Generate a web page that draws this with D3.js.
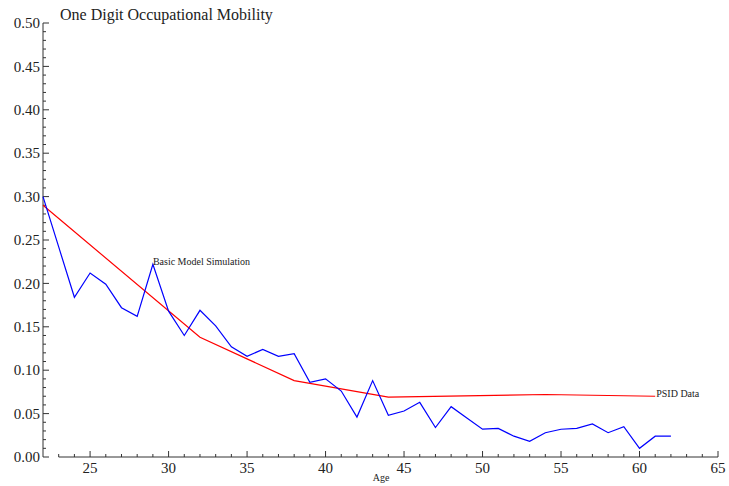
<!DOCTYPE html>
<html>
<head>
<meta charset="utf-8">
<script src="https://cdn.jsdelivr.net/npm/d3@7"></script>
<style>
  body { margin: 0; background: #fff; }
  svg { display: block; }
  text { font-family: "Liberation Serif", "Times New Roman", serif; fill: #222; }
</style>
</head>
<body>
<script>
const width = 729;
const height = 486;

// Basic Model Simulation (blue)
const simAges = [22, 23, 24, 25, 26, 27, 28, 29, 30, 31, 32, 33, 34, 35, 36, 37, 38, 39, 40, 41,
  42, 43, 44, 45, 46, 47, 48, 49, 50, 51, 52, 53, 54, 55, 56, 57, 58, 59, 60, 61, 62];
const simValues = [0.300, 0.242, 0.184, 0.212, 0.199, 0.172, 0.162, 0.222, 0.168, 0.140, 0.169,
  0.151, 0.127, 0.116, 0.124, 0.116, 0.119, 0.086, 0.090, 0.076, 0.046, 0.088, 0.048, 0.053,
  0.063, 0.034, 0.058, 0.045, 0.032, 0.033, 0.024, 0.018, 0.028, 0.032, 0.033, 0.038, 0.028,
  0.035, 0.010, 0.024, 0.024];

// PSID Data (red)
const psidAges = [22, 32, 38, 44, 54, 61];
const psidValues = [0.290, 0.138, 0.088, 0.069, 0.072, 0.070];

const yTickLabels = ["0.00", "0.05", "0.10", "0.15", "0.20", "0.25", "0.30", "0.35", "0.40", "0.45", "0.50"];
const xTickValues = [25, 30, 35, 40, 45, 50, 55, 60, 65];

const x = d3.scaleLinear().domain([22, 65]).range([43, 718]);
const y = d3.scaleLinear().domain([0, 0.5]).range([457, 23]);

const svg = d3.select("body").append("svg")
    .attr("width", width)
    .attr("height", height);

// y axis, ticks pointing into the plot
const yAxis = svg.append("g").attr("transform", `translate(${x(22)},0)`);
yAxis.append("line")
    .attr("y1", y(0)).attr("y2", y(0.5))
    .attr("stroke", "#333");
yAxis.selectAll("line.minor")
    .data(d3.range(0, 51).map(d => d / 100))
    .join("line")
    .attr("class", "minor")
    .attr("x1", 0)
    .attr("x2", (d, i) => i % 5 === 0 ? 6 : 3)
    .attr("y1", d => y(d)).attr("y2", d => y(d))
    .attr("stroke", "#333");
yAxis.selectAll("text")
    .data(yTickLabels)
    .join("text")
    .attr("x", -3)
    .attr("y", d => y(+d))
    .attr("dy", "0.35em")
    .attr("text-anchor", "end")
    .attr("font-size", 15)
    .text(d => d);

// x axis starts at 23, ticks pointing up
const xAxis = svg.append("g").attr("transform", `translate(0,${y(0)})`);
xAxis.append("line")
    .attr("x1", x(23)).attr("x2", x(65))
    .attr("stroke", "#333");
xAxis.selectAll("line.minor")
    .data(d3.range(23, 66))
    .join("line")
    .attr("class", "minor")
    .attr("x1", d => x(d)).attr("x2", d => x(d))
    .attr("y1", 0)
    .attr("y2", d => d % 5 === 0 ? -6 : -3)
    .attr("stroke", "#333");
xAxis.selectAll("text")
    .data(xTickValues)
    .join("text")
    .attr("x", d => x(d))
    .attr("y", 16)
    .attr("text-anchor", "middle")
    .attr("font-size", 15)
    .text(d => d);

svg.append("text")
    .attr("x", 381).attr("y", 481)
    .attr("text-anchor", "middle")
    .attr("font-size", 10)
    .text("Age");

svg.append("text")
    .attr("x", 60).attr("y", 20)
    .attr("font-size", 16)
    .text("One Digit Occupational Mobility");

const line = d3.line().x(d => x(d[0])).y(d => y(d[1]));

svg.append("path")
    .datum(d3.zip(psidAges, psidValues))
    .attr("fill", "none")
    .attr("stroke", "#ff0000")
    .attr("stroke-width", 1.2)
    .attr("d", line);

svg.append("path")
    .datum(d3.zip(simAges, simValues))
    .attr("fill", "none")
    .attr("stroke", "#0000ff")
    .attr("stroke-width", 1.2)
    .attr("d", line);

// labels placed at data points
svg.append("text")
    .attr("x", x(29)).attr("y", y(simValues[simAges.indexOf(29)]) + 1)
    .attr("font-size", 10)
    .text("Basic Model Simulation");

svg.append("text")
    .attr("x", x(61) + 1).attr("y", y(psidValues[psidValues.length - 1]) + 1)
    .attr("font-size", 10)
    .text("PSID Data");
</script>
</body>
</html>
